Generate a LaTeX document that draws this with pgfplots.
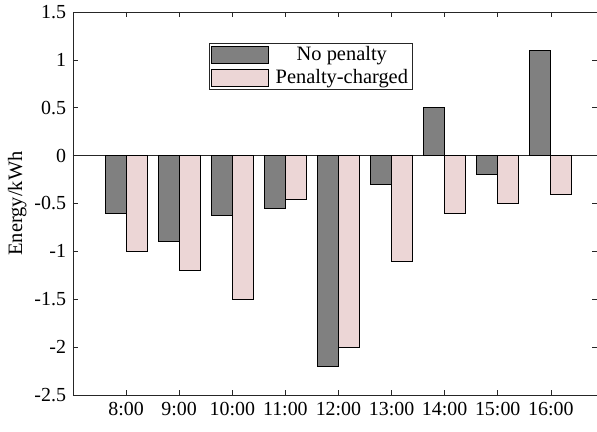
\documentclass[border=0pt]{standalone}
\usepackage{fontspec}
\setmainfont{Liberation Serif}
\usepackage{pgfplots}
\pgfplotsset{compat=1.18}
\definecolor{nopen}{RGB}{128,128,128}
\definecolor{pen}{RGB}{236,214,214}
\definecolor{axc}{RGB}{38,38,38}
\begin{document}
\fontsize{20.5}{24}\selectfont
\begin{tikzpicture}
\begin{axis}[
    scale only axis,
    width=524bp,
    height=383bp,
    ybar=0pt,
    bar width=21bp,
    xmin=-1, xmax=8.87,
    ymin=-2.5, ymax=1.5,
    xtick={0,...,8},
    xticklabels={8:00,9:00,10:00,11:00,12:00,13:00,14:00,15:00,16:00},
    ytick={-2.5,-2,...,1.5},
    yticklabels={-2.5,-2,-1.5,-1,-0.5,0,0.5,1,1.5},
    extra y ticks={0},
    extra y tick labels={},
    extra y tick style={grid=major, major grid style={axc, line width=0.6pt}, major tick length=0pt},
    tick align=inside,
    major tick length=5bp,
    axis line style={axc, line width=0.6pt},
    tick style={axc, line width=0.6pt},
    ylabel={Energy/kWh},
    ylabel style={yshift=-6bp},
    tick label style={font=\fontsize{20}{24}\selectfont},
    label style={font=\fontsize{20.5}{24}\selectfont},
    legend style={at={(0.2595,0.919)}, anchor=north west, draw=axc, line width=0.6pt,
        font=\fontsize{20.5}{24}\selectfont, inner xsep=2bp, inner ysep=1bp,
        row sep=2bp},
    legend cell align=center,
    legend image code/.code={
        \draw[#1, line width=0.8pt] (0bp,-8.5bp) rectangle (57bp,8.5bp);
        \path[draw=none, fill=none] (0bp,0bp) -- (62bp,0bp);},
]
\addplot[draw=black, line width=0.8pt, fill=nopen] coordinates {
    (0,-0.6) (1,-0.9) (2,-0.62) (3,-0.55) (4,-2.2) (5,-0.3) (6,0.5) (7,-0.2) (8,1.1)
};
\addlegendentry{No penalty}
\addplot[draw=black, line width=0.8pt, fill=pen] coordinates {
    (0,-1.0) (1,-1.2) (2,-1.5) (3,-0.46) (4,-2.0) (5,-1.1) (6,-0.6) (7,-0.5) (8,-0.4)
};
\addlegendentry{Penalty-charged}
\end{axis}
\pgfresetboundingbox
\path (current axis.south west) ++(-73bp,-37bp) rectangle ++(597bp,432bp);
\end{tikzpicture}
\end{document}
